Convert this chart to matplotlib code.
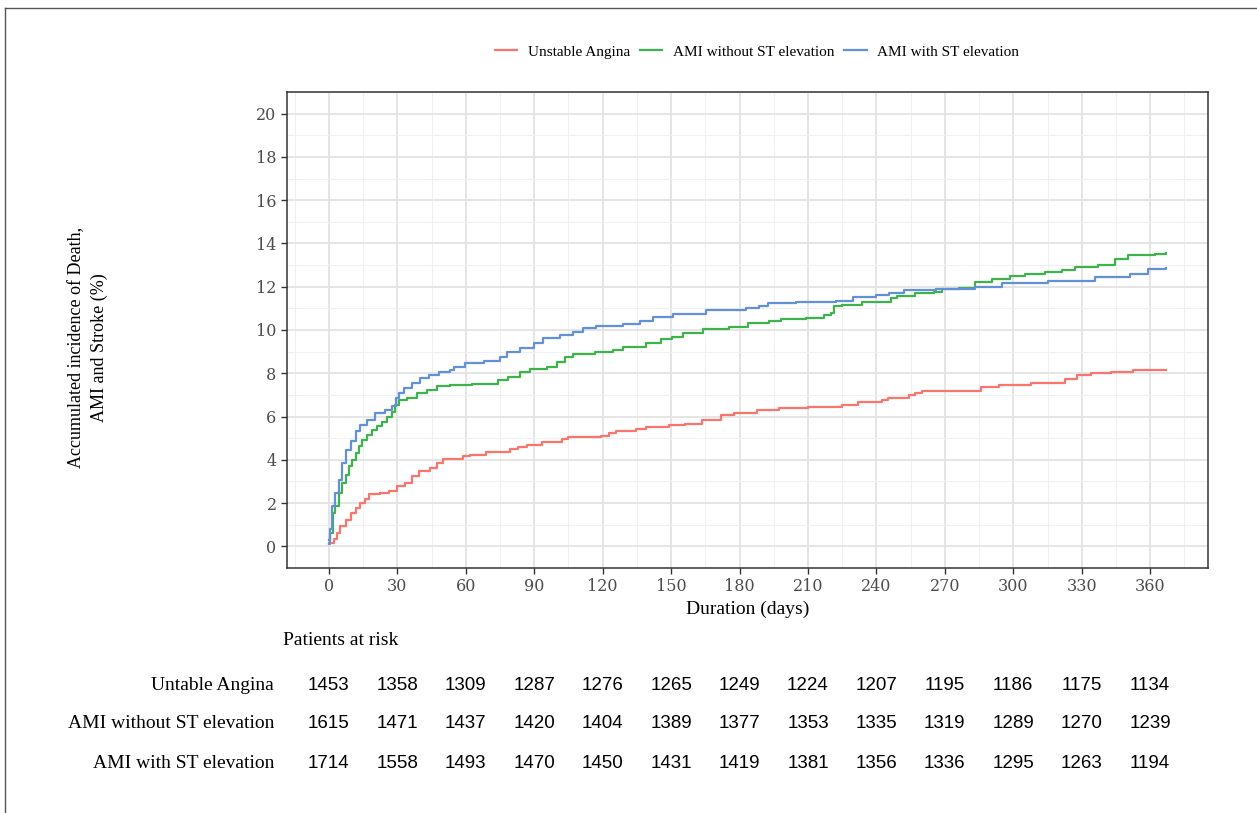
import numpy as np
import matplotlib.pyplot as plt
from matplotlib.transforms import blended_transform_factory
from matplotlib.lines import Line2D

# Step curves: (day, cumulative incidence %)
ua_days = [0, 2.2, 3.6, 5.1, 7.3, 9.5, 11.7, 13.8, 16, 17.5, 22.6, 26.2, 29.8, 33.5, 36.4,
           39.3, 44.4, 47.3, 50.2, 59, 62, 68.9, 79.4, 83, 86.7, 93.3, 102, 105, 119.5, 123,
           126, 134.8, 139, 149.3, 156, 163.7, 172, 177.8, 187.5, 197.4, 209.8, 225, 232,
           242.5, 245, 254.5, 257, 259.8, 281.9, 286, 293.9, 307.9, 322.7, 328, 333.9,
           342.7, 352.6, 367]
ua_pct = [0.17, 0.32, 0.63, 0.94, 1.24, 1.55, 1.78, 2.01, 2.17, 2.40, 2.47, 2.55, 2.78, 2.93,
          3.24, 3.47, 3.63, 3.86, 4.06, 4.19, 4.24, 4.36, 4.50, 4.58, 4.67, 4.81, 4.96, 5.05,
          5.11, 5.24, 5.33, 5.42, 5.50, 5.62, 5.67, 5.85, 6.08, 6.16, 6.31, 6.39, 6.44, 6.54,
          6.65, 6.77, 6.85, 7.0, 7.08, 7.16, 7.2, 7.36, 7.47, 7.57, 7.74, 7.93, 8.0, 8.08,
          8.16, 8.16]

nstemi_days = [0, 0.7, 1.8, 2.9, 4.4, 5.8, 7.3, 8.8, 10.2, 11.7, 13.1, 14.6, 16.8, 19, 21.1,
               23.3, 25.5, 27.7, 29.1, 30.6, 34.2, 38.6, 43, 47.3, 53.2, 62.7, 74.3, 78.7,
               83.8, 88.2, 95.5, 99.9, 103.5, 107.2, 116.7, 124.7, 129, 139.2, 145.8, 150.2,
               155.3, 163.9, 175.5, 183.6, 193, 198.1, 209, 217.1, 220, 221.5, 225.1, 233.8,
               246.2, 249.1, 257.1, 265.1, 268.8, 276, 283.4, 290.7, 298.7, 305.2, 313.9,
               321.2, 327, 337.2, 344.5, 350.4, 362, 367]
nstemi_pct = [0.3, 0.63, 1.55, 1.86, 2.47, 2.93, 3.32, 3.70, 4.01, 4.32, 4.62, 4.93, 5.16, 5.39,
              5.54, 5.77, 6.0, 6.23, 6.54, 6.77, 6.85, 7.08, 7.23, 7.39, 7.45, 7.50, 7.70,
              7.82, 8.08, 8.20, 8.31, 8.54, 8.77, 8.88, 8.97, 9.08, 9.20, 9.39, 9.57, 9.69,
              9.85, 10.03, 10.12, 10.34, 10.43, 10.49, 10.57, 10.69, 10.80, 11.11, 11.15,
              11.30, 11.46, 11.57, 11.69, 11.77, 11.89, 11.92, 12.2, 12.34, 12.49, 12.61,
              12.66, 12.76, 12.92, 13.0, 13.26, 13.46, 13.53, 13.56]

stemi_days = [0, 0.3, 1.5, 2.9, 4.4, 5.8, 7.3, 9.5, 11.7, 13.8, 16.8, 20.4, 24.8, 27.7, 29.6,
              30.6, 32.8, 36.4, 40, 43.7, 48.1, 53.2, 54.7, 59.8, 67.8, 75.1, 78, 83.8, 89.7,
              94, 101.3, 107.2, 111.5, 117.3, 129, 136.3, 142.1, 150.9, 165.4, 182.9, 188.7,
              192.4, 204.8, 222.3, 229.6, 239.8, 245.6, 252.2, 266, 283.4, 295, 315.4, 335.8,
              351, 359.1, 367]
stemi_pct = [0.1, 0.78, 1.86, 2.47, 3.09, 3.86, 4.47, 4.85, 5.31, 5.62, 5.85, 6.16, 6.31, 6.47,
             6.85, 7.08, 7.31, 7.54, 7.77, 7.93, 8.05, 8.16, 8.31, 8.46, 8.57, 8.77, 9.0, 9.16,
             9.39, 9.62, 9.77, 9.92, 10.08, 10.20, 10.26, 10.43, 10.58, 10.72, 10.92, 11.0,
             11.12, 11.26, 11.30, 11.35, 11.51, 11.61, 11.69, 11.84, 11.9, 12.0, 12.15, 12.27,
             12.46, 12.61, 12.8, 12.85]

group_names = ["Unstable Angina", "AMI without ST elevation", "AMI with ST elevation"]
table_names = ["Untable Angina", "AMI without ST elevation", "AMI with ST elevation"]
colors = ["#F8766D", "#3FB34B", "#6391D8"]

risk_days = [0, 30, 60, 90, 120, 150, 180, 210, 240, 270, 300, 330, 360]
risk_ua = [1453, 1358, 1309, 1287, 1276, 1265, 1249, 1224, 1207, 1195, 1186, 1175, 1134]
risk_nstemi = [1615, 1471, 1437, 1420, 1404, 1389, 1377, 1353, 1335, 1319, 1289, 1270, 1239]
risk_stemi = [1714, 1558, 1493, 1470, 1450, 1431, 1419, 1381, 1356, 1336, 1295, 1263, 1194]

serif = "Liberation Serif"
tickfont = "DejaVu Serif"

fig = plt.figure(figsize=(12.57, 8.13), dpi=100)
ax = fig.add_axes([287/1257, 1 - 568/813, (1208 - 287)/1257, (568 - 92)/813])

curves = [(ua_days, ua_pct), (nstemi_days, nstemi_pct), (stemi_days, stemi_pct)]
for (d, p), c, name in zip(curves, colors, group_names):
    ax.step(d, p, where="post", color=c, lw=1.6, label=name, zorder=3)

ax.set_xlim(-18.35, 385.35)
ax.set_ylim(-1, 21)
ax.set_xticks(risk_days)
ax.set_yticks(np.arange(0, 21, 2))
ax.set_xticks(np.arange(-15, 390, 30), minor=True)
ax.set_yticks(np.arange(-1, 22, 2), minor=True)
ax.grid(which="major", color="#E3E3E3", lw=1.3, zorder=0)
ax.grid(which="minor", color="#F0F0F0", lw=0.8, zorder=0)
ax.set_axisbelow(True)
ax.tick_params(which="minor", length=0)
ax.tick_params(which="major", length=4, width=1, color="#333333", labelcolor="#4D4D4D",
               labelsize=11.5)
for lab in ax.get_xticklabels() + ax.get_yticklabels():
    lab.set_family(tickfont)
for s in ax.spines.values():
    s.set_color("#333333")
    s.set_linewidth(1.1)

ax.set_xlabel("Duration (days)", family=serif, fontsize=14, labelpad=4)

fig.text(0.070, 0.573, "Accumulated incidence of Death,\nAMI and Stroke (%)", rotation=90,
         ha="center", va="center", family=serif, fontsize=13, linespacing=1.45)

# legend
handles = [Line2D([], [], color=c, lw=1.6) for c in colors]
fig.legend(handles, group_names, loc="center", bbox_to_anchor=(757/1257, 1 - 52/813),
           ncol=3, frameon=False, prop={"family": serif, "size": 11},
           handlelength=1.5, columnspacing=0.6, handletextpad=0.7)

# risk table
trans = blended_transform_factory(ax.transData, fig.transFigure)
fig.text(283/1257, 1 - 640/813, "Patients at risk", family=serif, fontsize=14,
         ha="left", va="center")
row_y = [685, 723, 763]
for name, counts, yy in zip(table_names, [risk_ua, risk_nstemi, risk_stemi], row_y):
    fig.text(274/1257, 1 - yy/813, name, family=serif, fontsize=14, ha="right", va="center")
    for d, n in zip(risk_days, counts):
        fig.text(d, 1 - yy/813, str(n), transform=trans, family="Liberation Sans",
                 fontsize=13.5, ha="center", va="center")

# outer frame (left and top edges)
fig.add_artist(Line2D([5/1257, 5/1257], [0, 1 - 8/813], transform=fig.transFigure,
                      color="#555555", lw=1))
fig.add_artist(Line2D([5/1257, 1], [1 - 8/813, 1 - 8/813], transform=fig.transFigure,
                      color="#555555", lw=1))

fig.savefig("out.png", dpi=100)
